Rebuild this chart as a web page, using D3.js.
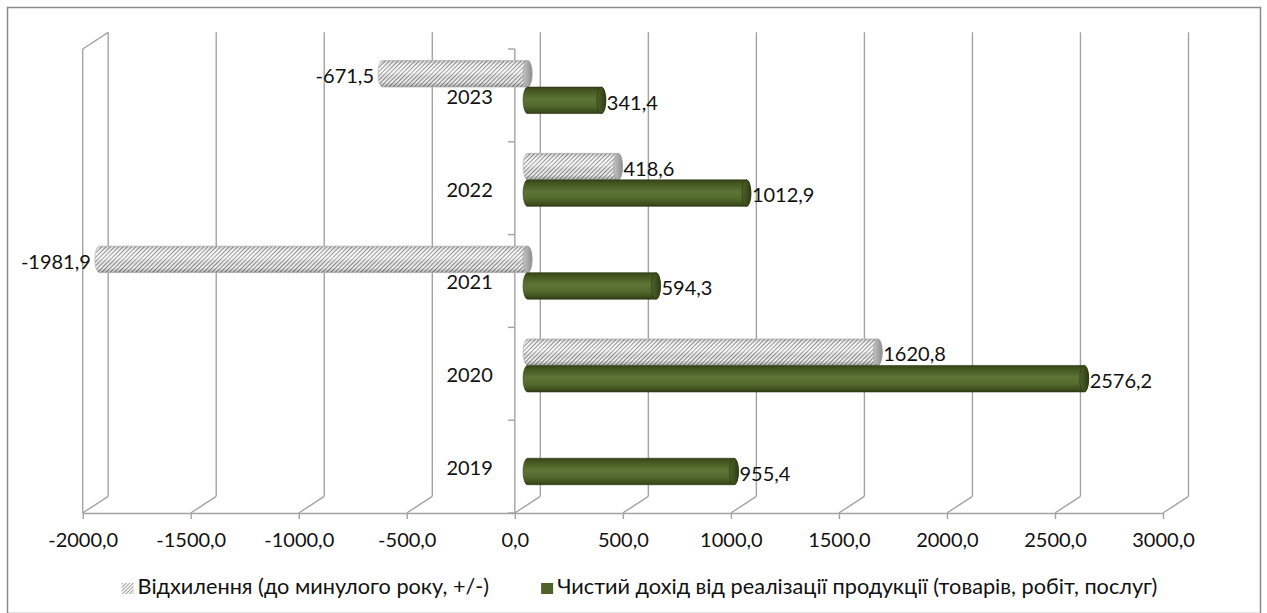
<!DOCTYPE html>
<html>
<head>
<meta charset="utf-8">
<script src="https://cdn.jsdelivr.net/npm/d3@7"></script>
<style>
  html, body { margin: 0; padding: 0; background: #ffffff; }
  svg { display: block; }
  text { font-family: Lato, "Noto Sans", sans-serif; fill: #111; }
</style>
</head>
<body>
<svg id="chart" width="1267" height="613"></svg>
<script>
// Categories (years), bottom to top
const categories = ["2019", "2020", "2021", "2022", "2023"];
// Net revenue from sales of products (goods, works, services)
const revenue = [955.4, 2576.2, 594.3, 1012.9, 341.4];
// Change versus previous year, +/- (no value for the first year)
const deviation = [null, 1620.8, -1981.9, 418.6, -671.5];
// Value axis ticks
const xTicks = [-2000, -1500, -1000, -500, 0, 500, 1000, 1500, 2000, 2500, 3000];
const seriesNames = [
  "Відхилення (до минулого року, +/-)",
  "Чистий дохід від реалізації продукції (товарів, робіт, послуг)"
];
const seriesKeys = ["deviation", "revenue"];

const fmt = v => v.toFixed(1).replace(".", ",");

const svg = d3.select("#chart");
const defs = svg.append("defs");

// outer chart border
svg.append("rect")
  .attr("x", 7.5).attr("y", 7.5).attr("width", 1253).attr("height", 606)
  .attr("fill", "#fff").attr("stroke", "#8a8a8a").attr("stroke-width", 1.5);

// ---- scales ----
const frontBottom = 513, frontTop = 49;
const DX = 25.5, DY = -16.7;           // depth offset of the back wall
const x = d3.scaleLinear().domain([-2000, 3000]).range([82.7, 1163]);
const yCat = d3.scaleBand().domain(categories).range([frontBottom, frontTop]).padding(0);
const ySer = d3.scaleBand().domain(seriesKeys).range([0, yCat.bandwidth()])
  .paddingInner(0).paddingOuter(0.75);

const gridColor = "#a3a3a3";

// ---- 3D frame: back wall gridlines, floor diagonals, side wall ----
const frame = svg.append("g").attr("fill", "none").attr("stroke", gridColor).attr("stroke-width", 1.4);
xTicks.forEach(t => {
  const fx = x(t);
  frame.append("line").attr("x1", fx + DX).attr("x2", fx + DX)
    .attr("y1", frontTop + DY).attr("y2", frontBottom + DY);
  frame.append("line").attr("x1", fx).attr("y1", frontBottom)
    .attr("x2", fx + DX).attr("y2", frontBottom + DY);
});
// left side wall front edge and top edge
frame.append("line").attr("x1", x(-2000)).attr("x2", x(-2000))
  .attr("y1", frontTop).attr("y2", frontBottom);
frame.append("line").attr("x1", x(-2000)).attr("y1", frontTop)
  .attr("x2", x(-2000) + DX).attr("y2", frontTop + DY);

// ---- value axis (front floor edge) ----
const xAxis = svg.append("g")
  .attr("transform", `translate(0,${frontBottom})`)
  .call(d3.axisBottom(x).tickValues(xTicks).tickFormat(fmt).tickSize(6).tickSizeOuter(0).tickPadding(14));
xAxis.select(".domain").attr("stroke", gridColor).attr("stroke-width", 1.4);
xAxis.selectAll(".tick line").attr("stroke", gridColor).attr("stroke-width", 1.4);
xAxis.selectAll(".tick text").attr("font-size", 20).attr("font-family", "Lato, sans-serif").attr("fill", "#111");

// ---- category axis at zero ----
const catAxis = svg.append("g").attr("transform", `translate(${x(0)},0)`);
catAxis.append("line").attr("x1", 0).attr("x2", 0).attr("y1", frontTop).attr("y2", frontBottom)
  .attr("stroke", gridColor).attr("stroke-width", 1.4);
const boundaries = categories.map(c => yCat(c)).concat([frontBottom]);
catAxis.selectAll("line.ctick").data(boundaries).join("line").attr("class", "ctick")
  .attr("x1", -7).attr("x2", 0).attr("y1", d => d).attr("y2", d => d)
  .attr("stroke", gridColor).attr("stroke-width", 1.4);
const yLabelAxis = svg.append("g").attr("transform", `translate(${x(0) - 22},0)`)
  .call(d3.axisLeft(yCat).tickSize(0).tickPadding(0));
yLabelAxis.select(".domain").remove();
yLabelAxis.selectAll(".tick text").attr("font-size", 20).attr("font-family", "Lato, sans-serif").attr("fill", "#111")
  .attr("dy", "0.42em");

// ---- fills ----
const gGreen = defs.append("linearGradient").attr("id", "greenBody")
  .attr("x1", 0).attr("y1", 0).attr("x2", 0).attr("y2", 1);
[[0, "#34421a"], [0.12, "#43551f"], [0.45, "#5d7535"], [0.7, "#536a2d"], [0.92, "#3d4d1c"], [1, "#2e3a14"]]
  .forEach(([o, c]) => gGreen.append("stop").attr("offset", o).attr("stop-color", c));
const gGreenCap = defs.append("linearGradient").attr("id", "greenCap")
  .attr("x1", 0).attr("y1", 0).attr("x2", 1).attr("y2", 0);
[[0, "#4e6429"], [1, "#2f3c15"]].forEach(([o, c]) => gGreenCap.append("stop").attr("offset", o).attr("stop-color", c));

const hatch = defs.append("pattern").attr("id", "hatch").attr("patternUnits", "userSpaceOnUse")
  .attr("width", 3).attr("height", 3).attr("patternTransform", "rotate(-45)");
hatch.append("rect").attr("width", 3).attr("height", 3).attr("fill", "#f4f4f4");
hatch.append("line").attr("x1", 0).attr("y1", 0.5).attr("x2", 3).attr("y2", 0.5)
  .attr("stroke", "#8c8c8c").attr("stroke-width", 1);
const gGrayShade = defs.append("linearGradient").attr("id", "grayShade")
  .attr("x1", 0).attr("y1", 0).attr("x2", 0).attr("y2", 1);
[[0, "#000", 0.18], [0.2, "#fff", 0.05], [0.45, "#fff", 0.25], [0.8, "#000", 0.02], [1, "#000", 0.28]]
  .forEach(([o, c, a]) => gGrayShade.append("stop").attr("offset", o).attr("stop-color", c).attr("stop-opacity", a));
const gGrayCap = defs.append("linearGradient").attr("id", "grayCap")
  .attr("x1", 0).attr("y1", 0).attr("x2", 1).attr("y2", 0);
[[0, "#c4c4c4"], [1, "#8e8e8e"]].forEach(([o, c]) => gGrayCap.append("stop").attr("offset", o).attr("stop-color", c));

// ---- cylinders (drawn at mid depth) ----
const bx = DX / 2, by = DY / 2, rx = 4.5;
function cylinderPath(x0, x1, yTop, h) {
  const r = h / 2;
  return `M${x0},${yTop}L${x1},${yTop}A${rx},${r} 0 0 1 ${x1},${yTop + h}` +
         `L${x0},${yTop + h}A${rx},${r} 0 0 1 ${x0},${yTop}Z`;
}

const rows = categories.map((c, i) => ({ cat: c, deviation: deviation[i], revenue: revenue[i] }));
const bars = [];
rows.forEach(r => seriesKeys.forEach(k => {
  if (r[k] !== null) bars.push({ cat: r.cat, key: k, value: r[k] });
}));

const barG = svg.append("g");
bars.forEach(b => {
  const yTop = yCat(b.cat) + ySer(b.key) + by;
  const h = ySer.bandwidth();
  const x0 = Math.min(x(0), x(b.value)) + bx;
  const x1 = Math.max(x(0), x(b.value)) + bx;
  const g = barG.append("g");
  const d = cylinderPath(x0, x1, yTop, h);
  if (b.key === "revenue") {
    g.append("path").attr("d", d).attr("fill", "url(#greenBody)").attr("stroke", "#2c3812").attr("stroke-width", 0.6);
    g.append("ellipse").attr("cx", x1).attr("cy", yTop + h / 2).attr("rx", rx).attr("ry", h / 2)
      .attr("fill", "url(#greenCap)").attr("stroke", "#27320f").attr("stroke-width", 0.6);
  } else {
    g.append("path").attr("d", d).attr("fill", "url(#hatch)");
    g.append("path").attr("d", d).attr("fill", "url(#grayShade)").attr("stroke", "#b5b5b5").attr("stroke-width", 0.7);
    g.append("ellipse").attr("cx", x1).attr("cy", yTop + h / 2).attr("rx", rx).attr("ry", h / 2)
      .attr("fill", "url(#grayCap)").attr("stroke", "#9a9a9a").attr("stroke-width", 0.6);
  }
  // data label
  const pos = b.value >= 0;
  svg.append("text")
    .attr("x", pos ? x1 + rx + 1 : x0 - rx - 4)
    .attr("y", yTop + h / 2 + 2)
    .attr("dy", "0.36em")
    .attr("text-anchor", pos ? "start" : "end")
    .attr("font-size", 20)
    .text(fmt(b.value));
});

// ---- legend (centred under the chart) ----
const legHatch = defs.append("pattern").attr("id", "legHatch").attr("patternUnits", "userSpaceOnUse")
  .attr("width", 2.5).attr("height", 2.5).attr("patternTransform", "rotate(-45)");
legHatch.append("rect").attr("width", 2.5).attr("height", 2.5).attr("fill", "#fff");
legHatch.append("line").attr("x1", 0).attr("y1", 0.5).attr("x2", 2.5).attr("y2", 0.5)
  .attr("stroke", "#9a9a9a").attr("stroke-width", 1);
const legend = svg.append("g");
const items = seriesNames.map((name, i) => {
  const g = legend.append("g");
  g.append("rect").attr("x", 0).attr("y", 583).attr("width", 12).attr("height", 11)
    .attr("fill", i === 0 ? "url(#legHatch)" : "#4f6228");
  const t = g.append("text").attr("x", 16).attr("y", 594).attr("font-size", 21.7).text(name);
  return { g, w: 16 + t.node().getComputedTextLength() };
});
const legendGap = 52;
const total = d3.sum(items, d => d.w) + legendGap * (items.length - 1);
let lx = 639.5 - total / 2;
items.forEach(it => { it.g.attr("transform", `translate(${lx},0)`); lx += it.w + legendGap; });
</script>
</body>
</html>
